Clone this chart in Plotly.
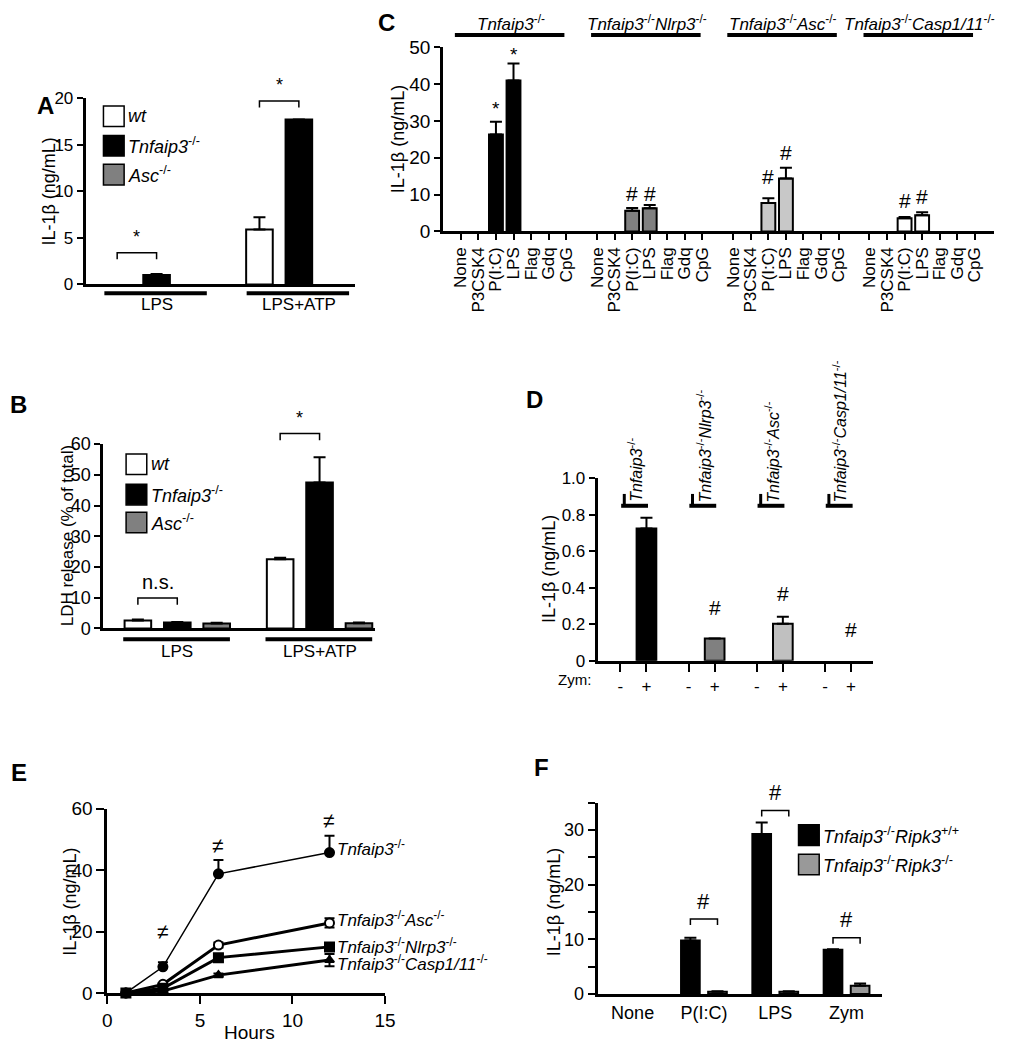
import numpy as np
import plotly.graph_objects as go

W, H = 1034, 1050
FONT = "Liberation Sans, Arial, Helvetica, sans-serif"
TNF = "<i>Tnfaip3</i><sup>-/-</sup>"

# ---------------- data ----------------
a_groups = ["LPS", "LPS+ATP"]
a_names = ["<i>wt</i>", TNF, "<i>Asc</i><sup>-/-</sup>"]
a_colors = ["white", "black", "#808080"]
a_vals = [[0.0, 5.9], [1.0, 17.7], [0.0, 0.0]]
a_errs = [[0.0, 1.3], [0.12, 0.0], [0.0, 0.0]]
a_sig = ["*", "*"]
a_sig_y = [3.4, 19.7]

b_groups = ["LPS", "LPS+ATP"]
b_vals = [[2.6, 22.5], [1.9, 47.5], [1.6, 1.7]]
b_errs = [[0.3, 0.5], [0.2, 8.2], [0.2, 0.2]]
b_sig = ["n.s.", "*"]
b_sig_y = [9.9, 63.5]

c_treat = ["None", "P3CSK4", "P(I:C)", "LPS", "Flag", "Gdq", "CpG"]
c_geno = [TNF, TNF + "<i>Nlrp3</i><sup>-/-</sup>", TNF + "<i>Asc</i><sup>-/-</sup>",
          TNF + "<i>Casp1/11</i><sup>-/-</sup>"]
c_colors = ["black", "#808080", "#c8c8c8", "white"]
c_vals = [[0, 0, 26.3, 41.0, 0, 0, 0],
          [0, 0, 5.6, 6.3, 0, 0, 0],
          [0, 0, 7.7, 14.4, 0, 0, 0],
          [0, 0, 3.6, 4.4, 0, 0, 0]]
c_errs = [[0, 0, 3.5, 4.6, 0, 0, 0],
          [0, 0, 0.8, 0.9, 0, 0, 0],
          [0, 0, 1.3, 2.9, 0, 0, 0],
          [0, 0, 0.3, 0.8, 0, 0, 0]]
c_sig = ["*", "#", "#", "#"]
c_sig_y = [[33.5, 48.0], [10.4, 10.4], [14.9, 21.5], [8.5, 9.6]]

d_geno = [TNF, TNF + "<i>Nlrp3</i><sup>-/-</sup>", TNF + "<i>Asc</i><sup>-/-</sup>",
          TNF + "<i>Casp1/11</i><sup>-/-</sup>"]
d_zym = ["-", "+"]
d_colors = ["black", "#808080", "#c0c0c0", "white"]
d_vals = [[0, 0.725], [0, 0.122], [0, 0.203], [0, 0.0]]
d_errs = [[0, 0.06], [0, 0.0], [0, 0.038], [0, 0.0]]
d_sig = ["", "#", "#", "#"]
d_sig_y = [0, 0.29, 0.37, 0.17]

e_hours = [1, 3, 6, 12]
e_names = [TNF, TNF + "<i>Asc</i><sup>-/-</sup>", TNF + "<i>Nlrp3</i><sup>-/-</sup>",
           TNF + "<i>Casp1/11</i><sup>-/-</sup>"]
e_vals = [[0, 8.5, 38.8, 45.7],
          [0, 2.8, 15.6, 22.8],
          [0, 1.5, 11.5, 15.0],
          [0, 0.6, 5.8, 10.7]]
e_errs = [[0, 1.5, 4.5, 5.5],
          [0, 0.4, 0.8, 1.5],
          [0, 0.3, 1.2, 1.2],
          [0, 0.2, 0.5, 2.0]]
e_sig = ["≠", "≠", "≠"]
e_sig_y = [20, 48, 56]

f_cats = ["None", "P(I:C)", "LPS", "Zym"]
f_names = [TNF + "<i>Ripk3</i><sup>+/+</sup>", TNF + "<i>Ripk3</i><sup>-/-</sup>"]
f_colors = ["black", "#999999"]
f_vals = [[0, 9.8, 29.3, 8.1], [0, 0.4, 0.4, 1.5]]
f_errs = [[0, 0.5, 2.1, 0.1], [0, 0.1, 0.1, 0.4]]
f_sig = ["", "#", "#", "#"]
f_sig_y = [0, 13.7, 33.6, 10.3]

# ---------------- panel geometry ----------------
A_SP, A_W = 0.277, 0.187
C_STRIDE, C_W = 7.76, 0.79
D_STRIDE, D_W = 2.615, 0.755
F_SP, F_W = 0.38, 0.262
GEOM = {
    1: dict(xpx=(82, 356), ypx=(280, 90), xr=(-0.498, 1.398), yr=(0, 20)),
    2: dict(xpx=(100, 376), ypx=(631, 443), xr=(-0.519, 1.391), yr=(0, 60)),
    3: dict(xpx=(445, 1005), ypx=(226, 38), xr=(-1.01, 30.4), yr=(0, 50)),
    4: dict(xpx=(602, 882), ypx=(664, 478), xr=(-0.87, 9.7), yr=(0, 1.0)),
    5: dict(xpx=(104, 386), ypx=(1003, 815), xr=(0, 15), yr=(0, 60)),
    6: dict(xpx=(602, 891), ypx=(1004, 809), xr=(-0.49, 3.5), yr=(0, 35)),
}

fig = go.Figure()
shapes, annos = [], []


def ax(n, kind):
    return kind if n == 1 else f"{kind}{n}"


def xdom(n):
    p0, p1 = GEOM[n]["xpx"]
    return [p0 / W, p1 / W]


def ydom(n):
    pb, pt = GEOM[n]["ypx"]
    return [1 - pb / H, 1 - pt / H]


def xp(n, v):
    d = xdom(n); r = GEOM[n]["xr"]
    return d[0] + (v - r[0]) / (r[1] - r[0]) * (d[1] - d[0])


def yp(n, v):
    d = ydom(n); r = GEOM[n]["yr"]
    return d[0] + (v - r[0]) / (r[1] - r[0]) * (d[1] - d[0])


def text(x, y, s, size=17, xref="paper", yref="paper", **kw):
    d = dict(x=x, y=y, text=s, xref=xref, yref=yref, showarrow=False,
             xanchor="center", yanchor="middle",
             font=dict(family=FONT, size=size, color="black"))
    d.update(kw)
    annos.append(d)


def bracket(n, x0, x1, ytop, yleg, w=1.5):
    X0, X1, YT, YL = xp(n, x0), xp(n, x1), yp(n, ytop), yp(n, yleg)
    shapes.append(dict(type="path", xref="paper", yref="paper",
                       path=f"M {X0},{YL} L {X0},{YT} L {X1},{YT} L {X1},{YL}",
                       line=dict(color="black", width=w)))


def errs(arr, cap, sym=False):
    d = dict(type="data", array=list(arr), color="black", thickness=2, width=cap, visible=True)
    if not sym:
        d.update(symmetric=False, arrayminus=[0] * len(arr))
    return d


def bar(n, x, y, err, color, width, cap, outline=2):
    yy = [v if v else None for v in y]
    fig.add_trace(go.Bar(x=list(x), y=yy, width=width, xaxis=ax(n, "x"), yaxis=ax(n, "y"),
                         marker=dict(color=color, line=dict(color="black", width=outline)),
                         error_y=errs(err, cap), showlegend=False, cliponaxis=False,
                         hoverinfo="skip"))


def legend_box(x_px, cy_list, names, colors, size=18):
    for cy, nm, col in zip(cy_list, names, colors):
        shapes.append(dict(type="rect", xref="paper", yref="paper",
                           x0=x_px / W, x1=(x_px + 21) / W,
                           y0=1 - (cy + 10.5) / H, y1=1 - (cy - 10.5) / H,
                           fillcolor=col, line=dict(color="black", width=1.5)))
        text((x_px + 23) / W, 1 - cy / H, nm, size=size, xanchor="left")


AX = dict(showline=True, linecolor="black", linewidth=3, showgrid=False, zeroline=False,
          ticks="outside", tickwidth=2, ticklen=6, tickcolor="black",
          tickfont=dict(family=FONT, size=17, color="black"), fixedrange=True)

layout = {}


def axes(n, xkw, ykw):
    g = GEOM[n]
    layout[ax(n, "xaxis")] = dict(AX, domain=xdom(n), range=list(g["xr"]), anchor=ax(n, "y"), **xkw)
    layout[ax(n, "yaxis")] = dict(AX, domain=ydom(n), range=list(g["yr"]), anchor=ax(n, "x"), **ykw)


# ---------------- Panel A ----------------
idx = np.arange(len(a_groups))
for j in range(3):
    bar(1, idx + (j - 1) * A_SP, a_vals[j], a_errs[j], a_colors[j], A_W, 6)
axes(1, dict(showticklabels=False, ticks=""), dict(tickvals=[0, 5, 10, 15, 20]))
for i, g in enumerate(a_groups):
    shapes.append(dict(type="line", xref="paper", yref="paper", x0=xp(1, i - 0.367),
                       x1=xp(1, i + 0.353), y0=1 - 289 / H, y1=1 - 289 / H,
                       line=dict(color="black", width=4)))
    text(xp(1, i), 1 - 301 / H, g, size=17)
    bracket(1, i - A_SP, i, a_sig_y[i], a_sig_y[i] - 0.7)
    text(xp(1, i - A_SP / 2), yp(1, a_sig_y[i] + 0.4), a_sig[i], size=18, yanchor="bottom")
legend_box(100, [108.5, 138.5, 168], a_names, a_colors)
text(45 / W, 1 - 185 / H, "IL-1β (ng/mL)", size=18, textangle=-90)
text(41 / W, 1 - 97 / H, "<b>A</b>", size=24)

# ---------------- Panel B ----------------
idx = np.arange(len(b_groups))
for j in range(3):
    bar(2, idx + (j - 1) * A_SP, b_vals[j], b_errs[j], a_colors[j], A_W, 6)
axes(2, dict(showticklabels=False, ticks=""),
     dict(tickvals=[0, 10, 20, 30, 40, 50, 60], tickfont=dict(family=FONT, size=18)))
for i, g in enumerate(b_groups):
    shapes.append(dict(type="line", xref="paper", yref="paper", x0=xp(2, i - 0.38),
                       x1=xp(2, i + 0.37), y0=1 - 642 / H, y1=1 - 642 / H,
                       line=dict(color="black", width=4)))
    text(xp(2, i), 1 - 655 / H, g, size=17)
    bracket(2, i - A_SP, i, b_sig_y[i], b_sig_y[i] - 2.2)
    text(xp(2, i - A_SP / 2), yp(2, b_sig_y[i] + 1.0), b_sig[i],
         size=18 if b_sig[i] == "*" else 20, yanchor="bottom")
legend_box(123, [463.5, 494.5, 523], a_names, a_colors)
text(63 / W, 1 - 537 / H, "LDH release (% of total)", size=17, textangle=-90)
text(14 / W, 1 - 403 / H, "<b>B</b>", size=24)

# ---------------- Panel C ----------------
ti = np.arange(len(c_treat))
c_tickvals, c_ticktext = [], []
for g in range(len(c_geno)):
    xs = g * C_STRIDE + ti
    bar(3, xs, c_vals[g], c_errs[g], c_colors[g], C_W, 6)
    c_tickvals += [float(v) for v in xs]
    c_ticktext += c_treat
    shapes.append(dict(type="line", xref="paper", yref="paper", x0=xp(3, xs[0] - 0.34),
                       x1=xp(3, xs[-1] - 0.1), y0=1 - 25.5 / H, y1=1 - 25.5 / H,
                       line=dict(color="black", width=4)))
    text(xp(3, (xs[0] + xs[-1]) / 2 - 0.15), 1 - 13 / H, c_geno[g], size=17)
    for k, t in enumerate(["P(I:C)", "LPS"]):
        ii = c_treat.index(t)
        text(xp(3, xs[ii]), yp(3, c_sig_y[g][k]), c_sig[g],
             size=21 if c_sig[g] == "#" else 19)
axes(3, dict(tickvals=c_tickvals, ticktext=c_ticktext, tickangle=-90, ticklen=6,
             tickfont=dict(family=FONT, size=17, color="black")),
     dict(tickvals=[0, 10, 20, 30, 40, 50], tickfont=dict(family=FONT, size=19)))
text(400 / W, 1 - 132 / H, "IL-1β (ng/mL)", size=18, textangle=-90)
text(387 / W, 1 - 13 / H, "<b>C</b>", size=24)

# ---------------- Panel D ----------------
zi = np.arange(len(d_zym))
d_tickvals, d_ticktext = [], []
for g in range(len(d_geno)):
    xs = g * D_STRIDE + zi
    bar(4, xs, d_vals[g], d_errs[g], d_colors[g], D_W, 6)
    d_tickvals += [float(v) for v in xs]
    d_ticktext += d_zym
    base = xs[0]
    shapes.append(dict(type="line", xref="paper", yref="paper", x0=xp(4, base + 0.03),
                       x1=xp(4, base + 1.06), y0=yp(4, 0.85), y1=yp(4, 0.85),
                       line=dict(color="black", width=4)))
    shapes.append(dict(type="line", xref="paper", yref="paper", x0=xp(4, base + 0.15),
                       x1=xp(4, base + 0.15), y0=yp(4, 0.85), y1=yp(4, 0.915),
                       line=dict(color="black", width=3)))
    text(xp(4, base + 0.58), yp(4, 0.858), d_geno[g], size=16, textangle=-90,
         yanchor="bottom")
    if d_sig[g]:
        text(xp(4, xs[1]), yp(4, d_sig_y[g]), d_sig[g], size=21)
axes(4, dict(tickvals=d_tickvals, ticktext=d_ticktext, ticklen=8),
     dict(tickvals=[0, 0.2, 0.4, 0.6, 0.8, 1.0],
          ticktext=["0", "0.2", "0.4", "0.6", "0.8", "1.0"]))
text(597 / W, 1 - 683 / H, "Zym:", size=15, xanchor="right")
text(552 / W, 1 - 570 / H, "IL-1β (ng/mL)", size=18, textangle=-90)
text(538 / W, 1 - 397 / H, "<b>D</b>", size=24)

# ---------------- Panel E ----------------
e_sym = ["circle", "circle", "square", "triangle-up"]
e_fill = ["black", "white", "black", "black"]
e_lw = [1.5, 3, 3, 3]
e_msize = [9, 9, 9, 8]
e_sym_err = [False, True, True, True]
e_shift = [5, 4, 1, -3]
for s in range(len(e_names)):
    fig.add_trace(go.Scatter(x=e_hours, y=e_vals[s], mode="lines+markers",
                             xaxis="x5", yaxis="y5", showlegend=False, cliponaxis=False,
                             line=dict(color="black", width=e_lw[s]),
                             marker=dict(symbol=e_sym[s], size=e_msize[s], color=e_fill[s],
                                         line=dict(color="black", width=2)),
                             error_y=errs(e_errs[s], 5, sym=e_sym_err[s]), hoverinfo="skip"))
    text(xp(5, e_hours[-1] + 0.3), yp(5, e_vals[s][-1]), e_names[s], size=17,
         xanchor="left", yshift=e_shift[s])
for h, sg, sy in zip(e_hours[1:], e_sig, e_sig_y):
    text(xp(5, h), yp(5, sy), sg, size=21)
axes(5, dict(tickvals=[0, 5, 10, 15], ticklen=8, tickfont=dict(family=FONT, size=19)),
     dict(tickvals=[0, 20, 40, 60], ticklen=8, tickfont=dict(family=FONT, size=19)))
text(248 / W, 1 - 1043 / H, "Hours", size=19)
text(66 / W, 1 - 910 / H, "IL-1β (ng/mL)", size=18, textangle=-90)
text(14 / W, 1 - 778 / H, "<b>E</b>", size=24)

# ---------------- Panel F ----------------
fi = np.arange(len(f_cats))
for j in range(2):
    bar(6, fi + (j - 0.5) * F_SP, f_vals[j], f_errs[j], f_colors[j], F_W, 6)
for i in range(len(f_cats)):
    if f_sig[i]:
        bracket(6, i - F_SP / 2, i + F_SP / 2, f_sig_y[i], f_sig_y[i] - 1.1)
        text(xp(6, i), yp(6, f_sig_y[i] + 0.6), f_sig[i], size=22, yanchor="bottom")
axes(6, dict(tickvals=[float(v) for v in fi], ticktext=f_cats, ticks="",
             tickfont=dict(family=FONT, size=18, color="black")),
     dict(tickvals=[0, 5, 10, 15, 20, 25, 30, 35],
          ticktext=["0", "", "10", "", "20", "", "30", ""], ticklen=7,
          tickfont=dict(family=FONT, size=18)))
legend_box(806, [842, 872], f_names, f_colors)
text(557 / W, 1 - 910 / H, "IL-1β (ng/mL)", size=18, textangle=-90)
text(545 / W, 1 - 773 / H, "<b>F</b>", size=24)

fig.update_layout(
    width=W, height=H, autosize=False,
    margin=dict(l=0, r=0, t=0, b=0, pad=0),
    paper_bgcolor="white", plot_bgcolor="white",
    barmode="overlay", showlegend=False,
    font=dict(family=FONT, size=17, color="black"),
    shapes=shapes, annotations=annos, **layout)

fig.write_html("out.html", config={"displayModeBar": False, "staticPlot": True},
               post_script="document.body.style.margin='0';document.body.style.padding='0';"
                           "document.documentElement.style.overflow='hidden';")
